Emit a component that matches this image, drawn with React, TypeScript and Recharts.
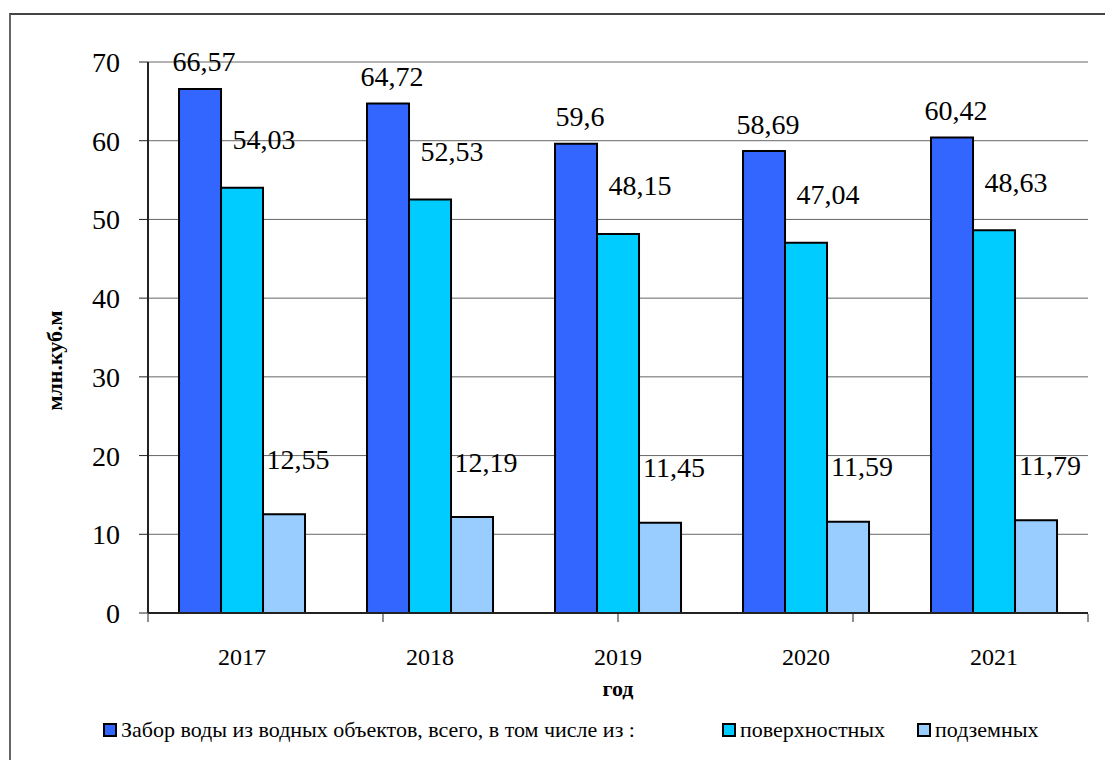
import { BarChart, Bar, XAxis, YAxis, CartesianGrid, LabelList } from "recharts"

const years = ["2017", "2018", "2019", "2020", "2021"]
const totalIntake = [66.57, 64.72, 59.6, 58.69, 60.42]
const surfaceIntake = [54.03, 52.53, 48.15, 47.04, 48.63]
const groundIntake = [12.55, 12.19, 11.45, 11.59, 11.79]
const yTicks = [0, 10, 20, 30, 40, 50, 60, 70]
const boundaryTicks = [0, 1, 2, 3, 4, 5]

const data = years.map((year, i) => ({
  year,
  total: totalIntake[i],
  surface: surfaceIntake[i],
  ground: groundIntake[i],
}))

const series = [
  { key: "total", name: "Забор воды из водных объектов, всего, в том числе из :", color: "#3366FF", dx: 4, dy: -27, legendLeft: 103 },
  { key: "surface", name: "поверхностных", color: "#00CCFF", dx: 22, dy: -48, legendLeft: 722 },
  { key: "ground", name: "подземных", color: "#99CCFF", dx: 14, dy: -55, legendLeft: 917 },
]

const FONT = "Liberation Serif, Tinos, DejaVu Serif, serif"

const fmt = (v: number) => String(v).replace(".", ",")

function makeLabel(dx: number, dy: number) {
  return (props: any) => {
    const { x, y, width, value } = props
    return (
      <text
        x={Number(x) + Number(width) / 2 + dx}
        y={Number(y) + dy}
        textAnchor="middle"
        dominantBaseline="central"
        style={{ fontSize: 28, fontFamily: FONT }}
        fill="#000"
      >
        {fmt(value)}
      </text>
    )
  }
}

export default function App() {
  return (
    <div
      style={{
        position: "fixed",
        left: 0,
        top: 0,
        width: 1105,
        height: 760,
        background: "#fff",
        overflow: "hidden",
        fontFamily: FONT,
      }}
    >
      {/* outer chart frame (only top/left visible in the picture) */}
      <div
        style={{
          position: "absolute",
          left: 9,
          top: 13,
          width: 1200,
          height: 900,
          borderLeft: "2px solid #666",
          borderTop: "2px solid #444",
        }}
      />
      <div style={{ position: "absolute", left: 0, top: 0 }}>
        <BarChart
          width={1105}
          height={760}
          data={data}
          margin={{ top: 62, right: 17, bottom: 145, left: 0 }}
          barCategoryGap="16.5%"
          barGap={0}
          style={{ fontFamily: FONT }}
        >
          <CartesianGrid vertical={false} stroke="#666" strokeWidth={1} />
          <YAxis
            width={148}
            domain={[0, 70]}
            ticks={yTicks}
            interval={0}
            axisLine={{ stroke: "#222", strokeWidth: 2 }}
            tickLine={{ stroke: "#222" }}
            tickSize={9}
            tickMargin={19}
            tick={{ fontSize: 28, fill: "#000", fontFamily: FONT }}
            label={{
              value: "млн.куб.м",
              angle: -90,
              position: "insideLeft",
              offset: 54,
              dy: 23,
              style: { fontSize: 22, fontWeight: "bold", fill: "#000", fontFamily: FONT, textAnchor: "middle" },
            }}
          />
          <YAxis
            yAxisId="right"
            orientation="right"
            width={0}
            domain={[0, 70]}
            tick={false}
            tickLine={false}
            axisLine={{ stroke: "#888", strokeWidth: 2 }}
          />
          <XAxis
            dataKey="year"
            height={1}
            tickLine={false}
            axisLine={{ stroke: "#222", strokeWidth: 2 }}
            tickMargin={29}
            tick={{ fontSize: 24, fill: "#000", fontFamily: FONT }}
            label={{
              value: "год",
              position: "bottom",
              offset: 66,
              style: { fontSize: 22, fontWeight: "bold", fill: "#000", fontFamily: FONT },
            }}
          />
          <XAxis
            xAxisId="bounds"
            type="number"
            domain={[0, 5]}
            ticks={boundaryTicks}
            height={1}
            axisLine={false}
            tick={{ fontSize: 1, fill: "none" }}
            tickFormatter={() => ""}
            tickSize={8}
            tickLine={{ stroke: "#222" }}
          />
          {series.map((s) => (
            <Bar
              key={s.key}
              dataKey={s.key}
              name={s.name}
              fill={s.color}
              stroke="#000"
              strokeWidth={2}
              isAnimationActive={false}
            >
              <LabelList dataKey={s.key} content={makeLabel(s.dx, s.dy)} />
            </Bar>
          ))}
        </BarChart>
      </div>
      {/* legend */}
      {series.map((s) => (
        <div
          key={s.key}
          style={{
            position: "absolute",
            left: s.legendLeft,
            top: 717,
            display: "flex",
            alignItems: "center",
            fontSize: 22,
            color: "#000",
            whiteSpace: "nowrap",
          }}
        >
          <span
            style={{
              display: "inline-block",
              width: 10,
              height: 10,
              border: "2px solid #000",
              background: s.color,
              marginRight: 4,
            }}
          />
          <span>{s.name}</span>
        </div>
      ))}
    </div>
  )
}
